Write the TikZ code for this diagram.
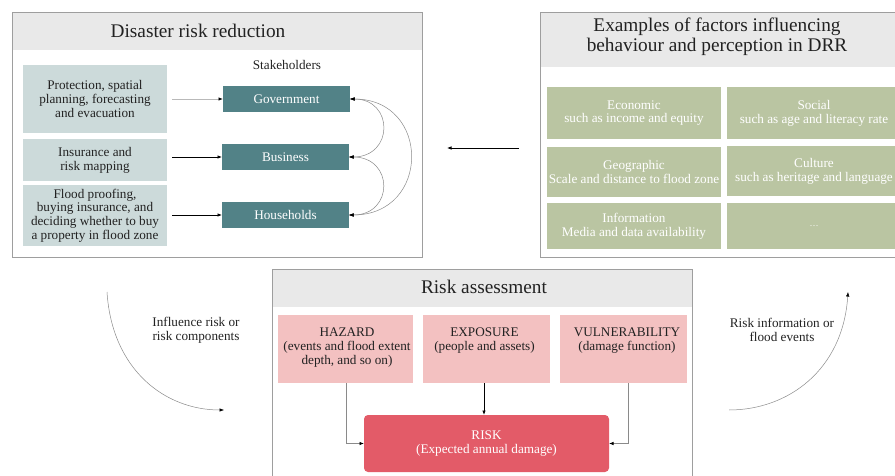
\documentclass[tikz,border=0pt]{standalone}
\usepackage{fontspec}
\setmainfont{Liberation Serif}
\usetikzlibrary{arrows.meta}

\definecolor{headgray}{HTML}{E9E9E9}
\definecolor{panelline}{HTML}{9E9E9E}
\definecolor{actblue}{HTML}{CCDADA}
\definecolor{teal}{HTML}{528287}
\definecolor{factgreen}{HTML}{BAC5A2}
\definecolor{comppink}{HTML}{F3C1C1}
\definecolor{riskred}{HTML}{E35B68}
\definecolor{inkdark}{HTML}{222222}
\definecolor{linegray}{HTML}{8A8A8A}

\begin{document}
\begin{tikzpicture}[x=1pt, y=-1pt,
  every node/.style={inner sep=0pt, outer sep=0pt, text=inkdark},
  body/.style={font=\fontsize{13.2}{13.8}\selectfont, align=center},
  paneltitle/.style={font=\fontsize{19.3}{20.5}\selectfont, align=center},
  panelframe/.style={draw=panelline, line width=0.8pt},
  actbox/.style={body, fill=actblue},
  holder/.style={body, fill=teal, text=white, minimum width=127pt, minimum height=26pt},
  factor/.style={body, fill=factgreen, text=white},
  component/.style={fill=comppink},
  tip/.style={-{Latex[length=4.5pt, width=3.5pt, color=black]}},
  bitip/.style={{Latex[length=4.5pt, width=3.5pt, color=black]}-{Latex[length=4.5pt, width=3.5pt, color=black]}},
  thin arc/.style={draw=linegray, line width=0.5pt}
]
\useasboundingbox (0,0) rectangle (895,476);
\clip (0,0) rectangle (895,476);

% ---------- Disaster risk reduction ----------
\fill[headgray] (12,12) rectangle (422,50);
\draw[panelframe] (12,12) rectangle (422,257);
\node[paneltitle] (drrtitle) at (198,31) {Disaster risk reduction};
\node[body] (stake) at (287,65) {Stakeholders};

\node[actbox, minimum width=144pt, minimum height=68pt] (prot) at (95,99)
  {Protection, spatial\\planning, forecasting\\and evacuation};
\node[actbox, minimum width=144pt, minimum height=42pt] (ins) at (95,160)
  {Insurance and\\risk mapping};
\node[actbox, minimum width=144pt, minimum height=61pt] (flood) at (95,215.5)
  {Flood proofing,\\buying insurance, and\\deciding whether to buy\\a property in flood zone};

\node[holder] (gov) at (286.5,99) {Government};
\node[holder] (bus) at (285.5,157) {Business};
\node[holder] (hh)  at (285.5,215) {Households};

\coordinate (a1) at (172,99);
\coordinate (a2) at (172,157);
\coordinate (a3) at (172,215);
\draw[tip, draw=linegray!60, line width=0.8pt] (a1) -- (gov.west);
\draw[tip, line width=0.7pt] (a2) -- (bus.west);
\draw[tip, line width=0.7pt] (a3) -- (hh.west);

\draw[bitip, thin arc] (gov.east) .. controls (394,99) and (394,157) .. (bus.east);
\draw[bitip, thin arc] (bus.east) .. controls (394,157) and (394,215) .. (hh.east);
\draw[bitip, thin arc] (gov.east) .. controls (431,99) and (431,215) .. (hh.east);

% ---------- Factors panel ----------
\fill[headgray] (540,12) rectangle (900,67);
\draw[panelframe] (900,12) -- (540,12) -- (540,257) -- (900,257);
\node[paneltitle] (facttitle) at (717,37)
  {Examples of factors influencing\\behaviour and perception in DRR};

\node[factor, minimum width=174pt, minimum height=52pt] (econ) at (634,113)
  {Economic\\such as income and equity};
\node[factor, minimum width=174pt, minimum height=52pt] (soc) at (814,113)
  {Social\\such as age and literacy rate};
\node[factor, minimum width=174pt, minimum height=50pt] (geo) at (634,172)
  {Geographic\\Scale and distance to flood zone};
\node[factor, minimum width=174pt, minimum height=50pt] (cult) at (814,171)
  {Culture\\such as heritage and language};
\node[factor, minimum width=174pt, minimum height=46pt] (info) at (634,226)
  {Information\\Media and data availability};
\node[factor, minimum width=174pt, minimum height=46pt, font=\fontsize{9}{10}\selectfont] (more) at (814,226)
  {\dots};

\coordinate (fa) at (519,148);
\coordinate (fb) at (447,148);
\draw[tip, line width=0.7pt] (fa) -- (fb);

% ---------- Risk assessment ----------
\fill[headgray] (272,269) rectangle (692,307);
\draw[panelframe] (272,480) -- (272,269) -- (692,269) -- (692,480);
\node[paneltitle] (ratitle) at (484,287) {Risk assessment};

\node[component, minimum width=135pt, minimum height=68pt] (haz) at (345.5,349) {};
\node[component, minimum width=127pt, minimum height=68pt] (expo) at (486.5,349) {};
\node[component, minimum width=127pt, minimum height=68pt] (vul) at (623.5,349) {};
\node[body] (haztxt) at (347,347.5) {HAZARD\\(events and flood extent\\depth, and so on)};
\node[body] (expotxt) at (484.5,340.5) {EXPOSURE\\(people and assets)};
\node[body] (vultxt) at (627,340.5) {VULNERABILITY\\(damage function)};

\node[body, fill=riskred, text=white, rounded corners=4pt,
      minimum width=245pt, minimum height=57pt] (risk) at (486.5,443.5)
  {RISK\\(Expected annual damage)};

\coordinate (hd) at (346,383);
\coordinate (vd) at (628,383);
\draw[tip, draw=linegray, line width=0.7pt] (hd) |- (risk.west);
\draw[tip, line width=0.7pt] (expo.south -| 484,0) -- (risk.north -| 484,0);
\draw[tip, draw=linegray, line width=0.7pt] (vd) |- (risk.east);

% ---------- feedback arcs ----------
\coordinate (l0) at (107,292);
\coordinate (l1) at (224,410);
\draw[tip, thin arc] (l0) .. controls (112,370) and (165,410) .. (l1);
\node[body] (inflab) at (196,330) {Influence risk or\\risk components};

\coordinate (r0) at (729,410);
\coordinate (r1) at (848,292);
\draw[tip, thin arc] (r0) .. controls (788,410) and (843,370) .. (r1);
\node[body] (infolab) at (782,330) {Risk information or\\flood events};
\end{tikzpicture}
\end{document}
